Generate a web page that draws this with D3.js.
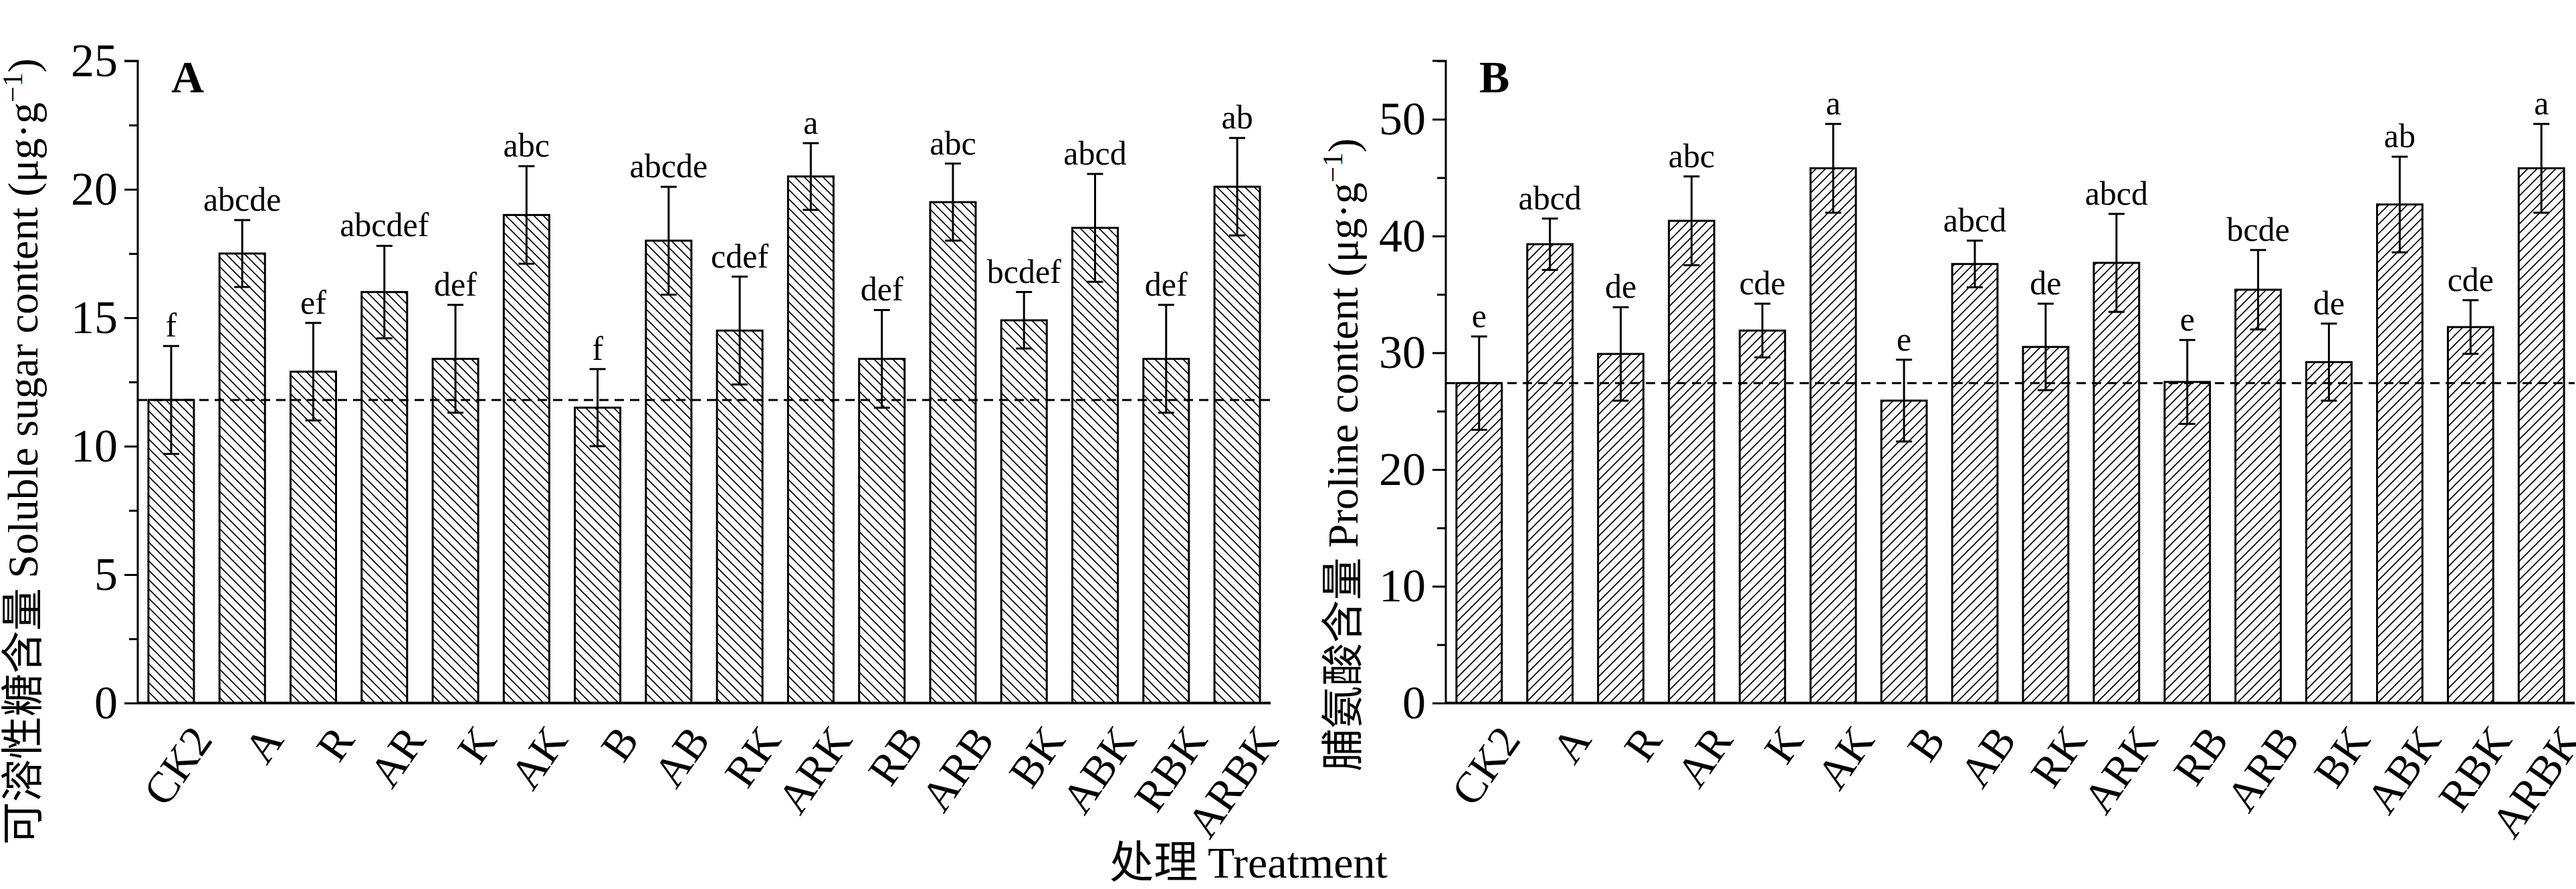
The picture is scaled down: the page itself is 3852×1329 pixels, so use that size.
<!DOCTYPE html>
<html><head><meta charset="utf-8">
<script src="https://cdn.jsdelivr.net/npm/d3@7"></script>
<style>body{margin:0;background:#fff}</style>
</head><body>
<svg id="c" width="3852" height="1329"></svg>
<script>
// data
const treatments = ["CK2","A","R","AR","K","AK","B","AB","RK","ARK","RB","ARB","BK","ABK","RBK","ARBK"];
const sugarMean = [11.8,17.5,12.9,16.0,13.4,19.0,11.5,18.0,14.5,20.5,13.4,19.5,14.9,18.5,13.4,20.1];
const sugarErr  = [2.1,1.3,1.9,1.8,2.1,1.9,1.5,2.1,2.1,1.3,1.9,1.5,1.1,2.1,2.1,1.9];
const sugarSig  = ["f","abcde","ef","abcdef","def","abc","f","abcde","cdef","a","def","abc","bcdef","abcd","def","ab"];
const prolineMean = [27.4,39.3,29.9,41.3,31.9,45.8,25.9,37.6,30.5,37.7,27.5,35.4,29.2,42.7,32.2,45.8];
const prolineErr  = [4.0,2.2,4.0,3.8,2.3,3.8,3.5,2.0,3.7,4.2,3.6,3.4,3.3,4.1,2.3,3.8];
const prolineSig  = ["e","abcd","de","abc","cde","a","e","abcd","de","abcd","e","bcde","de","ab","cde","a"];

const svg = d3.select("#c");
const font = "Liberation Serif, Times New Roman, serif";
const defs = svg.append("defs");
function hatch(id, back){
  const p = defs.append("pattern").attr("id", id).attr("patternUnits","userSpaceOnUse")
    .attr("width", 14).attr("height", 14);
  p.append("path").attr("d", back ? "M-2,-2L16,16M-9,5L9,23M5,-9L23,9" : "M-2,16L16,-2M-9,9L9,-9M5,23L23,5")
    .attr("stroke","#000").attr("stroke-width",1.6);
}
hatch("hA", true); hatch("hB", false);

function panel(o){
  const g = svg.append("g");
  const y = d3.scaleLinear().domain([0, o.max]).range([1051, o.top]);
  const x = d3.scaleBand().domain(treatments).range([o.x0, o.x1]).paddingInner(0.36).paddingOuter(0.15);
  const ya = g.append("g").attr("transform", `translate(${o.x0},0)`)
    .call(d3.axisLeft(y).tickValues(d3.range(0, o.max + 0.01, o.step / 2)).tickSize(20)
      .tickFormat(d => d % o.step === 0 ? d : ""));
  ya.selectAll("line").attr("stroke-width", 3);
  ya.selectAll(".tick").filter(d => d % o.step !== 0).select("line").attr("x2", -13);
  ya.select(".domain").attr("stroke-width", 3).attr("d", `M-20,${o.top}H0V1051`);
  ya.selectAll("text").attr("font-family", font).attr("font-size", 70).attr("x", -30).attr("fill","#000");
  g.append("line").attr("x1", o.x0).attr("x2", o.x1).attr("y1", 1051).attr("y2", 1051)
    .attr("stroke","#000").attr("stroke-width",4);
  g.selectAll("rect.b").data(o.mean).join("rect")
    .attr("x", (d,i) => x(treatments[i])).attr("width", x.bandwidth())
    .attr("y", d => y(d)).attr("height", d => 1051 - y(d))
    .attr("fill", `url(#${o.pat})`).attr("stroke","#000").attr("stroke-width",3);
  const cx = i => x(treatments[i]) + x.bandwidth() / 2;
  o.mean.forEach((m,i) => {
    const t = y(m + o.err[i]), b = y(m - o.err[i]);
    g.append("path").attr("d", `M${cx(i)},${t}V${b}M${cx(i)-12},${t}H${cx(i)+12}M${cx(i)-12},${b}H${cx(i)+12}`)
      .attr("stroke","#000").attr("stroke-width",3).attr("fill","none");
    g.append("text").attr("x", cx(i)).attr("y", t - 14).attr("text-anchor","middle")
      .attr("font-family", font).attr("font-size", 50).text(o.sig[i]);
    g.append("text").attr("transform", `translate(${cx(i)+26},1080) rotate(-55)`)
      .attr("text-anchor","end").attr("dy","0.7em").attr("font-family", font).attr("font-size", 66)
      .text(treatments[i]);
  });
  g.append("line").attr("x1", o.x0).attr("x2", o.x1).attr("y1", y(o.mean[0])).attr("y2", y(o.mean[0]))
    .attr("stroke","#000").attr("stroke-width",3).attr("stroke-dasharray","14,9");
  g.append("text").attr("x", o.x0 + 50).attr("y", 138).attr("font-family", font).attr("font-weight","bold")
    .attr("font-size", 68).text(o.letter);
  const yl = g.append("text").attr("transform", `translate(${o.lx},${o.ly}) rotate(-90)`).attr("text-anchor","middle")
    .attr("font-family", font).attr("font-size", 64);
  yl.append("tspan").attr("font-family","Noto Sans CJK SC").text(o.cn);
  yl.append("tspan").text(o.en + " (μg·g");
  yl.append("tspan").attr("baseline-shift","super").attr("font-size", 42).text("−1");
  yl.append("tspan").text(")");
}

panel({x0:206, x1:1900, top:91, max:25, step:5, mean:sugarMean, err:sugarErr, sig:sugarSig,
  pat:"hA", letter:"A", lx:56, ly:675, cn:"可溶性糖含量 ", en:"Soluble sugar content"});
panel({x0:2162, x1:3850, top:91, max:55, step:10, mean:prolineMean, err:prolineErr, sig:prolineSig,
  pat:"hB", letter:"B", lx:2030, ly:680, cn:"脯氨酸含量 ", en:"Proline content"});

const xl = svg.append("text").attr("x", 1867).attr("y", 1312).attr("text-anchor","middle")
  .attr("font-family", font).attr("font-size", 66);
xl.append("tspan").attr("font-family","Noto Sans CJK SC").text("处理  ");
xl.append("tspan").text("Treatment");
</script>
</body></html>
